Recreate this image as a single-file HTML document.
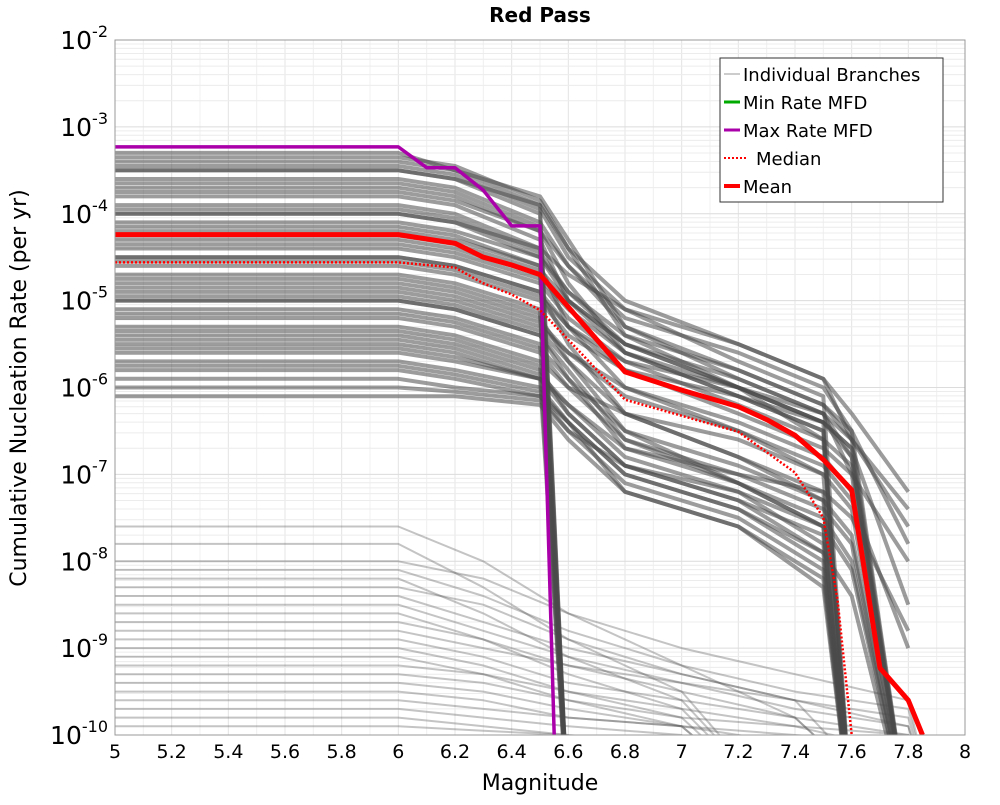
<!DOCTYPE html>
<html><head><meta charset="utf-8"><style>
body{margin:0;background:#fff;}
svg text{font-family:"DejaVu Sans","Liberation Sans",sans-serif;}
</style></head><body>
<svg id="chart" width="1000" height="800" xmlns="http://www.w3.org/2000/svg">
<text x="540" y="22" text-anchor="middle" font-size="20" font-weight="bold">Red Pass</text>
<text x="540" y="790" text-anchor="middle" font-size="22">Magnitude</text>
<text transform="translate(26,388) rotate(-90)" text-anchor="middle" font-size="22">Cumulative Nucleation Rate (per yr)</text>
<g id="grid"></g>
<g id="plot" clip-path="url(#clip)"></g>
<defs><clipPath id="clip"><rect x="115" y="40" width="850" height="695"/></clipPath></defs>
<rect x="115" y="40" width="850" height="695" fill="none" stroke="#999" stroke-width="1"/>
<g id="ticks"></g>
<g>
<rect x="720" y="58" width="223" height="144" fill="#fff" stroke="#333" stroke-width="1"/>
<g><line x1="724" y1="74" x2="740" y2="74" stroke="#999" stroke-width="1"/><text x="743" y="81" font-size="18">Individual Branches</text></g>
<g><line x1="724" y1="102" x2="740" y2="102" stroke="#00aa00" stroke-width="3"/><text x="743" y="109" font-size="18">Min Rate MFD</text></g>
<g><line x1="724" y1="130" x2="740" y2="130" stroke="#aa00aa" stroke-width="3"/><text x="743" y="137" font-size="18">Max Rate MFD</text></g>
<g><line x1="724" y1="158" x2="748" y2="158" stroke="#f00" stroke-width="2" stroke-dasharray="2,2"/><text x="756" y="165" font-size="18">Median</text></g>
<g><line x1="724" y1="186" x2="740" y2="186" stroke="#f00" stroke-width="4"/><text x="743" y="193" font-size="18">Mean</text></g>
</g>
</svg>
<script>
const xTicks=[5,5.2,5.4,5.6,5.8,6,6.2,6.4,6.6,6.8,7,7.2,7.4,7.6,7.8,8];
const xTickLabels=["5","5.2","5.4","5.6","5.8","6","6.2","6.4","6.6","6.8","7","7.2","7.4","7.6","7.8","8"];
const yTickExps=[-2,-3,-4,-5,-6,-7,-8,-9,-10];
const U_MAG=[5,6,6.2,6.5,6.6,6.8,7.2,7.5,7.6,7.8];
const upperBranches=[
[-3.3,-3.3,-3.5,-3.9,-11,-11,-11,-11,-11,-11],
[-3.4,-3.4,-3.5,-3.8,-4.3,-5.3,-5.9,-6.3,-7.0,-11],
[-3.5,-3.5,-3.6,-4.0,-11,-11,-11,-11,-11,-11],
[-3.6,-3.6,-3.7,-4.1,-4.6,-5.2,-5.6,-6.0,-6.5,-11],
[-3.7,-3.7,-3.8,-4.2,-4.8,-5.6,-6.0,-6.6,-11,-11],
[-3.8,-3.8,-3.9,-4.3,-5.0,-5.5,-5.9,-6.3,-6.6,-7.4],
[-3.9,-3.9,-4.0,-4.4,-11,-11,-11,-11,-11,-11],
[-4.0,-4.0,-4.1,-4.5,-5.0,-5.6,-6.1,-6.5,-11,-11],
[-4.1,-4.1,-4.2,-4.5,-4.9,-5.4,-5.8,-6.2,-6.5,-7.8],
[-4.2,-4.2,-4.3,-4.6,-5.3,-6.0,-6.5,-7.0,-11,-11],
[-4.3,-4.3,-4.4,-4.7,-11,-11,-11,-11,-11,-11],
[-4.4,-4.4,-4.5,-4.8,-5.2,-5.7,-6.2,-6.6,-6.9,-11],
[-4.5,-4.5,-4.6,-4.9,-5.5,-6.3,-6.8,-7.3,-11,-11],
[-4.6,-4.6,-4.7,-5.0,-5.4,-5.8,-6.1,-6.4,-6.7,-8.5],
[-4.7,-4.7,-4.8,-5.1,-11,-11,-11,-11,-11,-11],
[-4.8,-4.8,-4.9,-5.2,-5.7,-6.5,-7.1,-7.6,-11,-11],
[-4.9,-4.9,-5.0,-5.3,-5.6,-6.0,-6.4,-6.8,-7.2,-11],
[-5.0,-5.0,-5.1,-5.4,-5.8,-6.6,-7.0,-7.4,-7.8,-11],
[-5.1,-5.1,-5.2,-5.5,-11,-11,-11,-11,-11,-11],
[-5.2,-5.2,-5.3,-5.6,-6.0,-6.6,-7.1,-7.6,-11,-11],
[-5.3,-5.3,-5.4,-5.7,-6.0,-6.3,-6.6,-7.0,-7.4,-11],
[-5.4,-5.4,-5.5,-5.8,-6.3,-6.9,-7.2,-7.8,-11,-11],
[-5.5,-5.5,-5.6,-5.9,-11,-11,-11,-11,-11,-11],
[-5.6,-5.6,-5.7,-5.9,-6.2,-6.7,-7.1,-7.5,-8.0,-11],
[-5.7,-5.7,-5.8,-6.0,-6.4,-7.2,-7.6,-8.2,-11,-11],
[-5.8,-5.8,-5.9,-6.1,-6.5,-6.9,-7.3,-7.9,-11,-11],
[-5.9,-5.9,-6.0,-6.1,-6.4,-7.0,-7.4,-8.0,-11,-11],
[-6.1,-6.1,-6.1,-6.2,-6.6,-7.2,-7.6,-8.3,-11,-11],
[-3.5,-3.5,-3.6,-3.9,-4.4,-5.0,-5.5,-5.9,-6.6,-11],
[-4.0,-4.0,-4.1,-4.4,-4.7,-5.1,-5.5,-5.9,-6.3,-7.2],
[-4.5,-4.5,-4.6,-4.9,-5.3,-5.7,-6.0,-6.3,-6.8,-11],
[-5.0,-5.0,-5.1,-5.4,-5.9,-6.7,-7.0,-7.2,-7.5,-8.8],
[-3.45,-3.45,-3.55,-3.95,-4.5,-5.1,-5.7,-6.1,-11,-11],
[-4.25,-4.25,-4.35,-4.65,-5.0,-5.5,-6.0,-6.4,-6.7,-11],
[-4.85,-4.85,-4.95,-5.25,-5.6,-6.1,-6.5,-6.9,-7.3,-9.0],
[-5.45,-5.45,-5.55,-5.85,-6.2,-6.8,-7.2,-7.6,-8.1,-11],
[-3.35,-3.35,-3.45,-3.85,-4.4,-5.4,-6.0,-6.4,-11,-11],
[-3.65,-3.65,-3.75,-4.15,-11,-11,-11,-11,-11,-11],
[-3.95,-3.95,-4.05,-4.45,-4.9,-5.5,-6.0,-6.4,-6.8,-11],
[-4.15,-4.15,-4.25,-4.6,-11,-11,-11,-11,-11,-11],
[-4.35,-4.35,-4.45,-4.75,-5.1,-5.6,-6.1,-6.5,-11,-11],
[-4.55,-4.55,-4.65,-4.95,-5.3,-5.8,-6.3,-6.7,-7.0,-8.0],
[-4.75,-4.75,-4.85,-5.15,-11,-11,-11,-11,-11,-11],
[-4.95,-4.95,-5.05,-5.35,-5.7,-6.3,-6.8,-7.2,-11,-11],
[-5.15,-5.15,-5.25,-5.55,-5.9,-6.5,-6.9,-7.3,-7.7,-11],
[-5.35,-5.35,-5.45,-5.75,-11,-11,-11,-11,-11,-11],
[-5.55,-5.55,-5.65,-5.9,-6.3,-6.9,-7.3,-7.7,-11,-11],
[-5.75,-5.75,-5.85,-6.05,-6.4,-7.0,-7.4,-7.9,-8.4,-11],
[-6.0,-6.0,-6.05,-6.15,-6.5,-7.1,-7.5,-8.1,-11,-11],
[-3.75,-3.75,-3.85,-4.2,-4.6,-5.3,-5.8,-6.2,-6.6,-7.6]
];
const L_MAG=[5,6,6.3,6.6,7.0,7.4,7.8,7.9];
const lowerBranches=[
[-7.6,-7.6,-8.0,-8.6,-9.2,-9.8,-11,-11],
[-7.8,-7.8,-8.3,-8.9,-9.5,-11,-11,-11],
[-8.0,-8.0,-8.2,-8.6,-9.0,-9.3,-9.6,-11],
[-8.2,-8.2,-8.6,-9.1,-9.6,-11,-11,-11],
[-8.4,-8.4,-8.7,-9.0,-9.3,-9.6,-9.8,-11],
[-8.6,-8.6,-8.9,-9.3,-9.7,-11,-11,-11],
[-8.8,-8.8,-9.0,-9.2,-9.4,-9.6,-9.9,-11],
[-9.0,-9.0,-9.2,-9.5,-9.8,-11,-11,-11],
[-9.2,-9.2,-9.3,-9.5,-9.7,-9.9,-10.2,-11],
[-9.4,-9.4,-9.5,-9.7,-9.9,-11,-11,-11],
[-9.6,-9.6,-9.7,-9.8,-9.9,-10.0,-10.1,-11],
[-9.8,-9.8,-9.9,-10.0,-11,-11,-11,-11],
[-8.1,-8.1,-8.4,-8.8,-9.2,-9.5,-9.7,-11],
[-8.9,-8.9,-9.1,-9.4,-9.6,-9.8,-11,-11],
[-9.3,-9.3,-9.4,-9.6,-9.8,-9.9,-10.0,-11],
[-8.5,-8.5,-8.8,-9.1,-9.4,-9.7,-9.9,-11],
[-9.1,-9.1,-9.3,-9.6,-9.9,-11,-11,-11],
[-8.3,-8.3,-8.5,-8.9,-9.3,-9.6,-11,-11],
[-8.7,-8.7,-8.9,-9.2,-9.5,-9.8,-10.0,-11],
[-9.5,-9.5,-9.6,-9.8,-9.9,-10.1,-11,-11],
[-9.7,-9.7,-9.8,-9.9,-10.0,-11,-11,-11],
[-9.9,-9.9,-9.95,-10.0,-10.1,-11,-11,-11]
];
const meanMag=[5,6,6.2,6.3,6.4,6.5,6.8,7.0,7.2,7.3,7.4,7.5,7.6,7.7,7.8,7.85];
const meanLog=[-4.24,-4.24,-4.34,-4.5,-4.59,-4.7,-5.82,-6.03,-6.22,-6.37,-6.55,-6.83,-7.18,-9.23,-9.6,-10];
const medianMag=[5,6,6.2,6.3,6.4,6.5,6.6,6.8,7.2,7.4,7.5,7.55,7.6];
const medianLog=[-4.56,-4.56,-4.62,-4.8,-4.93,-5.11,-5.45,-6.14,-6.51,-6.98,-7.5,-8.44,-10];
const maxMag=[5,6,6.1,6.2,6.3,6.4,6.5,6.51,6.55];
const maxLog=[-3.23,-3.23,-3.47,-3.47,-3.73,-4.14,-4.14,-5.5,-10];
const minMag=[5,6,6.5,6.55];
const minLog=[-10.6,-10.6,-10.8,-11];

const X0=115,X1=965,Y0=40,Y1=735;
const xs=m=>X0+(m-5)/3*(X1-X0);
const ys=l=>Y0+(-2-l)/8*(Y1-Y0);
const NS="http://www.w3.org/2000/svg";
function mk(tag,attrs,parent){const e=document.createElementNS(NS,tag);for(const k in attrs)e.setAttribute(k,attrs[k]);parent.appendChild(e);return e;}
const grid=document.getElementById('grid'),plot=document.getElementById('plot'),ticks=document.getElementById('ticks');
for(let i=0;i<=30;i++){const m=5+i*0.1;const l=mk('line',{x1:xs(m),x2:xs(m),y1:Y0,y2:Y1,stroke:i%2?'#f0f0f0':'#e4e4e4','stroke-width':1},grid);

}
for(let d=-10;d<-2;d++){for(let k=1;k<10;k++){const y=ys(d+Math.log10(k));const l=mk('line',{x1:X0,x2:X1,y1:y,y2:y,stroke:k===1?'#dcdcdc':'#ececec','stroke-width':1},grid);

}}
function path(mags,logs,attrs,name){let d='';mags.forEach((m,i)=>{d+=(i?'L':'M')+xs(m).toFixed(1)+','+ys(logs[i]).toFixed(1);});
const p=mk('path',Object.assign({d:d,fill:'none','stroke-linejoin':'round'},attrs),plot);

return p;}
lowerBranches.forEach(b=>path(L_MAG,b,{stroke:'#555','stroke-opacity':0.35,'stroke-width':2},'branch-line'));
upperBranches.forEach(b=>path(U_MAG,b,{stroke:'#4a4a4a','stroke-opacity':0.55,'stroke-width':4},'branch-line'));
path(minMag,minLog,{stroke:'#00aa00','stroke-width':3},'min-rate-line');
path(maxMag,maxLog,{stroke:'#aa00aa','stroke-width':3.5},'max-rate-line');
path(medianMag,medianLog,{stroke:'#f00','stroke-width':2.5,'stroke-dasharray':'2,2'},'median-line');
path(meanMag,meanLog,{stroke:'#f00','stroke-width':5},'mean-line');
xTicks.forEach((m,i)=>{const t=mk('text',{x:xs(m),y:758,'text-anchor':'middle','font-size':19},ticks);t.textContent=xTickLabels[i];

});
yTickExps.forEach(e=>{const y=ys(e);const t=mk('text',{x:108,y:y+9,'text-anchor':'end','font-size':25},ticks);


const a=mk('tspan',{},t);a.textContent='10';const b=mk('tspan',{dy:-12,'font-size':16},t);b.textContent=String(e);});
</script>
</body></html>
